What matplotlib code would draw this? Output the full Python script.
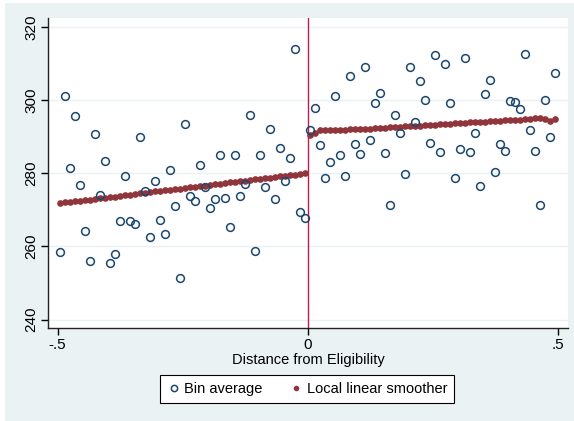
import numpy as np
import matplotlib
matplotlib.use("Agg")
from matplotlib import pyplot as plt
from matplotlib.patches import Rectangle
from matplotlib.lines import Line2D

# bin centres (width .01) on each side of the cutoff
bins_left = np.round(np.arange(-0.495, 0, 0.01), 3)
bins_right = np.round(np.arange(0.005, 0.5, 0.01), 3)

avg_left = [258.4, 301.1, 281.4, 295.5, 276.7, 264.3, 255.9, 290.7, 274.0, 283.2,
            255.4, 258.0, 266.9, 279.3, 266.8, 266.1, 289.9, 275.2, 262.6, 277.9,
            267.1, 263.4, 280.8, 271.0, 251.4, 293.4, 273.7, 272.4, 282.2, 276.3,
            270.4, 272.9, 285.0, 273.3, 265.2, 285.1, 273.7, 277.0, 295.9, 258.8,
            285.1, 276.1, 292.1, 273.0, 286.9, 278.0, 284.2, 314.0, 269.4, 267.7]
avg_right = [291.8, 297.7, 287.8, 278.7, 283.1, 301.1, 285.1, 279.2, 306.6, 288.1,
             285.2, 309.0, 289.0, 299.3, 302.0, 285.5, 271.4, 295.9, 291.0, 279.8,
             309.0, 294.0, 305.2, 299.9, 288.2, 312.3, 285.8, 309.9, 299.1, 278.6,
             286.5, 311.5, 285.8, 291.1, 276.6, 301.5, 305.5, 280.3, 288.1, 286.0,
             299.6, 299.4, 297.6, 312.6, 291.8, 286.1, 271.4, 299.9, 289.8, 307.5]

smooth_left = [271.8, 272.0, 272.1, 272.3, 272.5, 272.6, 272.8, 273.0, 273.1, 273.3,
               273.5, 273.6, 273.8, 274.0, 274.1, 274.3, 274.5, 274.6, 274.8, 275.0,
               275.1, 275.3, 275.5, 275.6, 275.8, 276.0, 276.1, 276.3, 276.5, 276.6,
               276.8, 277.0, 277.1, 277.3, 277.5, 277.6, 277.8, 278.0, 278.1, 278.3,
               278.5, 278.6, 278.8, 279.0, 279.1, 279.3, 279.5, 279.6, 279.8, 280.0]
smooth_right = [290.4, 290.9, 291.8, 291.8, 291.8, 291.7, 291.8, 291.9, 292.0, 292.0,
                292.0, 292.1, 292.2, 292.3, 292.3, 292.4, 292.5, 292.6, 292.7, 292.8,
                292.9, 292.9, 293.0, 293.1, 293.2, 293.3, 293.4, 293.4, 293.5, 293.6,
                293.7, 293.8, 293.9, 293.9, 294.0, 294.1, 294.2, 294.2, 294.3, 294.4,
                294.5, 294.5, 294.6, 294.7, 294.8, 295.0, 295.0, 294.7, 294.3, 294.7]

NAVY = '#1a476f'
MAROON = '#90353b'
BG = '#eaf2f3'

plt.rcParams['font.family'] = ['Liberation Sans', 'DejaVu Sans']

fig = plt.figure(figsize=(5.74, 4.21), dpi=100, facecolor='white')
fig.patches.append(Rectangle((5 / 574, 0), 1, 1 - 3 / 421, transform=fig.transFigure,
                             facecolor=BG, edgecolor='none', zorder=-10))
ax = fig.add_axes([48 / 574, 1 - 328 / 421, 520 / 574, 310 / 421])
ax.set_facecolor('white')

for y in [240, 260, 280, 300, 320]:
    ax.axhline(y, color=BG, lw=1.0, zorder=0)
ax.axvline(0, color='#c8174b', lw=1.0, zorder=1)

for xs, ys in [(bins_left, smooth_left), (bins_right, smooth_right)]:
    ax.plot(xs, ys, 'o', color=MAROON, ms=4.8, mew=0, zorder=2)
for xs, ys in [(bins_left, avg_left), (bins_right, avg_right)]:
    ax.plot(xs, ys, 'o', mfc='none', mec=NAVY, ms=5.6, mew=1.1, zorder=3)

ax.set_xlim(-0.519, 0.521)
ax.set_ylim(237.7, 322.4)
ax.set_xticks([-0.5, 0, 0.5])
ax.set_xticklabels(['-.5', '0', '.5'])
ax.set_yticks([240, 260, 280, 300, 320])
ax.tick_params(axis='y', labelrotation=90, length=5, width=1, labelsize=11, pad=2)
ax.tick_params(axis='x', length=5, width=1, labelsize=11, pad=2)
for lab in ax.get_yticklabels():
    lab.set_va('center')
for s in ['top', 'right']:
    ax.spines[s].set_visible(False)
for s in ['left', 'bottom']:
    ax.spines[s].set_color('#222222')
    ax.spines[s].set_linewidth(1.0)
ax.set_xlabel('Distance from Eligibility', fontsize=10.5, labelpad=1)

handles = [Line2D([], [], ls='none', marker='o', mfc='none', mec=NAVY, ms=4.5, mew=1.1),
           Line2D([], [], ls='none', marker='o', color=MAROON, ms=4.0, mew=0)]
leg = fig.legend(handles, ['Bin average', 'Local linear smoother'], loc='center',
                 bbox_to_anchor=(307 / 574, 1 - 389 / 421), ncol=2, fontsize=10.5,
                 frameon=True, fancybox=False, edgecolor='black', framealpha=1,
                 handletextpad=0.3, columnspacing=1.8, handlelength=0.9,
                 borderpad=0.45)
leg.get_frame().set_linewidth(0.8)

fig.savefig('out.png', dpi=100, facecolor=fig.get_facecolor())
